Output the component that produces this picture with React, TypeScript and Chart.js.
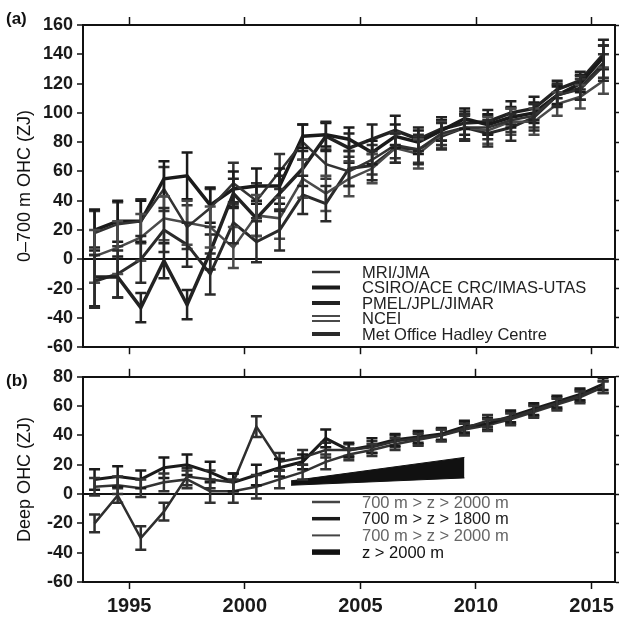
import React, { useEffect, useRef } from 'react';
import { Chart, registerables } from 'chart.js';

Chart.register(...registerables);

const FONT = '"Liberation Sans", Arial, Helvetica, sans-serif';

// ---------- data ----------
const years = [1993.5, 1994.5, 1995.5, 1996.5, 1997.5, 1998.5, 1999.5, 2000.5, 2001.5, 2002.5, 2003.5, 2004.5,
  2005.5, 2006.5, 2007.5, 2008.5, 2009.5, 2010.5, 2011.5, 2012.5, 2013.5, 2014.5, 2015.5];

const xTicks = [1995, 2000, 2005, 2010, 2015];
const aTicks = [-60, -40, -20, 0, 20, 40, 60, 80, 100, 120, 140, 160];
const bTicks = [-60, -40, -20, 0, 20, 40, 60, 80];

// panel (a) 0-700 m OHC (ZJ)
const mriJma = [18, 24, 26, 48, 22, 35, 52, 40, 60, 80, 65, 60, 68, 78, 75, 86, 90, 90, 95, 98, 112, 116, 132];
const mriJmaErr = [15, 15, 15, 15, 15, 13, 14, 12, 12, 12, 10, 10, 10, 9, 9, 8, 8, 8, 8, 8, 7, 7, 8];
const csiro = [20, 26, 26, 55, 57, 37, 48, 50, 50, 84, 85, 82, 73, 84, 80, 88, 96, 92, 97, 100, 112, 120, 138];
const csiroErr = [14, 14, 14, 12, 16, 12, 12, 12, 12, 8, 8, 8, 8, 8, 8, 7, 7, 7, 7, 7, 6, 6, 8];
const pmel = [-12, -12, -33, -1, -31, 5, 45, 28, 45, 62, 84, 76, 82, 88, 82, 89, 93, 94, 100, 103, 116, 122, 140];
const pmelErr = [20, 14, 10, 12, 10, 12, 10, 12, 12, 12, 10, 10, 10, 10, 8, 8, 8, 8, 8, 8, 6, 6, 10];
const ncei = [2, 8, 15, 28, 25, 22, 8, 30, 28, 55, 45, 55, 62, 76, 72, 85, 90, 88, 94, 94, 106, 111, 122];
const nceiErr = [18, 18, 16, 15, 15, 14, 14, 14, 14, 13, 12, 12, 10, 10, 10, 9, 9, 9, 9, 9, 8, 8, 9];
const metOffice = [-15, -10, 0, 20, 10, -10, 25, 12, 20, 44, 38, 62, 64, 76, 75, 84, 90, 86, 90, 97, 112, 117, 134];
const metOfficeErr = [18, 16, 16, 15, 15, 14, 14, 14, 14, 13, 12, 12, 10, 10, 10, 9, 9, 9, 9, 9, 8, 8, 12];

// panel (b) deep OHC (ZJ)
const deepA = [-20, -1, -30, -12, 12, 10, 8, 46, 22, 25, 30, 30, 32, 36, 38, 40, 45, 50, 52, 57, 62, 67, 73];
const deepAErr = [6, 5, 8, 6, 6, 6, 6, 7, 6, 5, 5, 4, 4, 4, 4, 4, 4, 4, 4, 4, 4, 4, 4];
const deepB = [10, 12, 10, 18, 20, 15, 8, 13, 18, 22, 38, 30, 33, 37, 39, 41, 46, 48, 53, 58, 63, 68, 75];
const deepBErr = [7, 7, 6, 7, 7, 7, 6, 7, 6, 5, 6, 5, 5, 4, 4, 4, 4, 4, 4, 4, 4, 4, 4];
const deepC = [5, 6, 4, 8, 10, 2, 2, 5, 10, 15, 22, 27, 30, 34, 37, 40, 44, 47, 51, 56, 61, 66, 73];
const deepCErr = [6, 6, 6, 6, 6, 8, 8, 8, 6, 5, 5, 4, 4, 4, 4, 4, 4, 4, 4, 4, 4, 4, 4];
const wedgeYears = [2002, 2009.5];
const wedgeLow = [6, 11];
const wedgeHigh = [9, 25];

// ---------- helpers ----------
const pts = (xs: number[], ys: number[]) => xs.map((x, i) => ({ x, y: ys[i] }));

const errorBarPlugin = {
  id: 'errorBars',
  afterDatasetsDraw(chart: any) {
    const ctx = chart.ctx;
    chart.data.datasets.forEach((ds: any, i: number) => {
      if (!ds.errors) return;
      const meta = chart.getDatasetMeta(i);
      const yScale = chart.scales[meta.yAxisID];
      ctx.save();
      ctx.strokeStyle = ds.borderColor;
      ctx.lineWidth = ds.errorWidth || 2;
      meta.data.forEach((pt: any, j: number) => {
        const raw = ds.data[j];
        const e = ds.errors[j];
        const yt = yScale.getPixelForValue(raw.y + e);
        const yb = yScale.getPixelForValue(raw.y - e);
        const x = pt.x;
        const cap = 5.5;
        ctx.beginPath();
        ctx.moveTo(x, yt); ctx.lineTo(x, yb);
        ctx.moveTo(x - cap, yt); ctx.lineTo(x + cap, yt);
        ctx.moveTo(x - cap, yb); ctx.lineTo(x + cap, yb);
        ctx.stroke();
      });
      ctx.restore();
    });
  },
};

const boxLegendPlugin = {
  id: 'boxLegend',
  afterDraw(chart: any, _args: any, opts: any) {
    const ctx = chart.ctx;
    const items = chart.data.datasets.filter((d: any) => d.legendLabel);
    ctx.save();
    ctx.font = `${opts.fontSize}px ${FONT}`;
    ctx.textBaseline = 'middle';
    ctx.textAlign = 'left';
    items.forEach((d: any, k: number) => {
      const y = opts.y + k * opts.rowGap;
      ctx.strokeStyle = d.legendColor || d.borderColor;
      ctx.lineWidth = d.legendWidth || 3;
      ctx.beginPath();
      if (d.legendDouble) {
        ctx.moveTo(opts.x, y - 2.5); ctx.lineTo(opts.x + opts.lineLen, y - 2.5);
        ctx.moveTo(opts.x, y + 2.5); ctx.lineTo(opts.x + opts.lineLen, y + 2.5);
      } else {
        ctx.moveTo(opts.x, y); ctx.lineTo(opts.x + opts.lineLen, y);
      }
      ctx.stroke();
      ctx.fillStyle = d.legendTextColor || '#222';
      ctx.fillText(d.legendLabel, opts.x + opts.textGap, y + 1);
    });
    ctx.restore();
  },
};

const line = (label: string, ys: number[], errs: number[], color: string, width: number, extra: any = {}) => ({
  type: 'line',
  data: pts(years, ys),
  errors: errs,
  borderColor: color,
  backgroundColor: color,
  borderWidth: width,
  pointRadius: 0,
  tension: 0,
  fill: false,
  legendLabel: label,
  errorWidth: 2.5,
  ...extra,
});

const frameScales = (yMin: number, yMax: number, yT: number[], yTitle: string, showX: boolean, topH: number, botH: number) => {
  const setX = (s: any) => { s.ticks = xTicks.map((v) => ({ value: v })); };
  const setY = (s: any) => { s.ticks = yT.map((v) => ({ value: v })); };
  const border = { display: true, color: '#111', width: 2 };
  return {
    x: {
      type: 'linear', position: 'bottom', min: 1993, max: 2016,
      afterBuildTicks: setX,
      afterFit: (s: any) => { s.height = botH; },
      ticks: { display: showX, font: { size: 20, family: FONT, weight: 'bold' }, color: '#1a1a1a', padding: 5, maxRotation: 0, callback: (v: any) => String(v) },
      grid: { drawOnChartArea: false, tickLength: 7, tickColor: '#111', tickWidth: 1.5 },
      border,
    },
    xTop: {
      type: 'linear', position: 'top', axis: 'x', min: 1993, max: 2016,
      afterBuildTicks: setX,
      afterFit: (s: any) => { s.height = topH; },
      ticks: { display: false },
      grid: { drawOnChartArea: false, tickLength: 8, tickColor: '#111', tickWidth: 1.5 },
      border,
    },
    y: {
      type: 'linear', position: 'left', min: yMin, max: yMax,
      afterBuildTicks: setY,
      afterFit: (s: any) => { s.width = 83; },
      ticks: { font: { size: 18, family: FONT, weight: 'bold' }, color: '#1a1a1a', padding: 4, callback: (v: any) => String(v) },
      grid: {
        color: (c: any) => (c.tick && c.tick.value === 0 ? '#111' : 'rgba(0,0,0,0)'),
        lineWidth: 2, tickLength: 6, tickColor: '#111', tickWidth: 1.5,
      },
      border,
      title: { display: true, text: yTitle, font: { size: 18, family: FONT }, color: '#111', padding: { top: 14, bottom: 0 } },
    },
    yRight: {
      type: 'linear', position: 'right', axis: 'y', min: yMin, max: yMax,
      afterBuildTicks: setY,
      afterFit: (s: any) => { s.width = 4; },
      ticks: { display: false },
      grid: { drawOnChartArea: false, tickLength: 5, tickColor: '#111', tickWidth: 1.5 },
      border,
    },
  };
};

export default function App() {
  const refA = useRef<HTMLCanvasElement>(null);
  const refB = useRef<HTMLCanvasElement>(null);

  useEffect(() => {
    Chart.defaults.font.family = FONT;
    const chartA = new Chart(refA.current as HTMLCanvasElement, {
      type: 'line',
      data: {
        datasets: [
          line('MRI/JMA', mriJma, mriJmaErr, '#333333', 2.5, { legendWidth: 2.5 }),
          line('CSIRO/ACE CRC/IMAS-UTAS', csiro, csiroErr, '#1a1a1a', 3.5, { legendWidth: 4 }),
          line('PMEL/JPL/JIMAR', pmel, pmelErr, '#222222', 3.5, { legendWidth: 4 }),
          line('NCEI', ncei, nceiErr, '#4a4a4a', 2.5, { legendDouble: true, legendWidth: 2 }),
          line('Met Office Hadley Centre', metOffice, metOfficeErr, '#2a2a2a', 3, { legendWidth: 4 }),
        ] as any,
      },
      options: {
        animation: false,
        responsive: false,
        maintainAspectRatio: false,
        layout: { padding: 0 },
        plugins: {
          legend: { display: false },
          tooltip: { enabled: false },
          boxLegend: { x: 312, y: 272, rowGap: 15.5, lineLen: 28, textGap: 50, fontSize: 16.5 },
        } as any,
        scales: frameScales(-60, 160, aTicks, '0–700 m OHC (ZJ)', false, 25, 12) as any,
      },
      plugins: [errorBarPlugin, boxLegendPlugin],
    });

    const chartB = new Chart(refB.current as HTMLCanvasElement, {
      type: 'line',
      data: {
        datasets: [
          line('700 m > z > 2000 m', deepA, deepAErr, '#2e2e2e', 2.5, { legendWidth: 2.5, legendColor: '#444', legendTextColor: '#666' }),
          line('700 m > z > 1800 m', deepB, deepBErr, '#1a1a1a', 3, { legendWidth: 3.5, legendTextColor: '#222' }),
          line('700 m > z > 2000 m', deepC, deepCErr, '#333333', 2.5, { legendWidth: 2, legendColor: '#444', legendTextColor: '#666' }),
          {
            type: 'line', data: pts(wedgeYears, wedgeLow), borderColor: '#111', backgroundColor: '#111',
            borderWidth: 1, pointRadius: 0, fill: false,
          },
          {
            type: 'line', data: pts(wedgeYears, wedgeHigh), borderColor: '#111', backgroundColor: '#111',
            borderWidth: 1, pointRadius: 0, fill: '-1', legendLabel: 'z > 2000 m', legendWidth: 5.5, legendTextColor: '#111',
          },
        ] as any,
      },
      options: {
        animation: false,
        responsive: false,
        maintainAspectRatio: false,
        layout: { padding: 0 },
        plugins: {
          legend: { display: false },
          tooltip: { enabled: false },
          boxLegend: { x: 312, y: 140, rowGap: 16.7, lineLen: 28, textGap: 50, fontSize: 16.5 },
        } as any,
        scales: frameScales(-60, 80, bTicks, 'Deep OHC (ZJ)', true, 13, 35) as any,
      },
      plugins: [errorBarPlugin, boxLegendPlugin],
    });

    return () => {
      chartA.destroy();
      chartB.destroy();
    };
  }, []);

  return (
    <div style={{ position: 'fixed', left: 0, top: 0, width: 619, height: 617, background: '#fff', fontFamily: FONT, color: '#111' }}>
      <canvas ref={refA} width={619} height={362} style={{ position: 'absolute', left: 0, top: 0 }} />
      <canvas ref={refB} width={619} height={255} style={{ position: 'absolute', left: 0, top: 362 }} />
      <span style={{ position: 'absolute', left: 6, top: 10, fontSize: 17, lineHeight: 1, fontWeight: 'bold' }}>(a)</span>
      <span style={{ position: 'absolute', left: 6, top: 372, fontSize: 17, lineHeight: 1, fontWeight: 'bold' }}>(b)</span>
    </div>
  );
}
